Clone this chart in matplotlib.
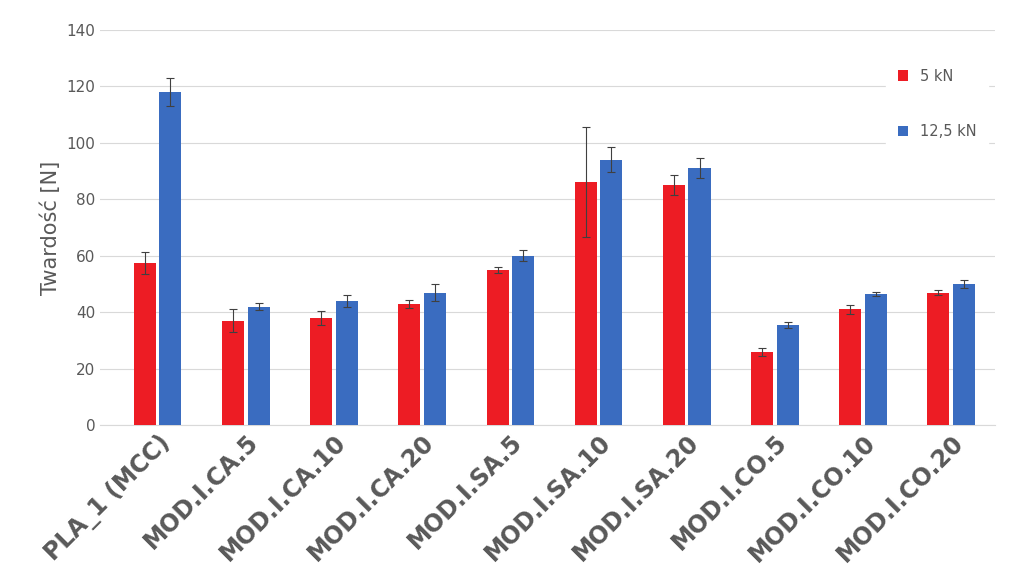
import matplotlib
matplotlib.use("Agg")
import matplotlib.pyplot as plt
import numpy as np

categories = ["PLA_1 (MCC)", "MOD.I.CA.5", "MOD.I.CA.10", "MOD.I.CA.20", "MOD.I.SA.5",
              "MOD.I.SA.10", "MOD.I.SA.20", "MOD.I.CO.5", "MOD.I.CO.10", "MOD.I.CO.20"]
red_vals = [57.5, 37, 38, 43, 55, 86, 85, 26, 41, 47]
red_err = [4, 4, 2.5, 1.5, 1, 19.5, 3.5, 1.5, 1.5, 1]
blue_vals = [118, 42, 44, 47, 60, 94, 91, 35.5, 46.5, 50]
blue_err = [5, 1.2, 2, 3, 2, 4.5, 3.5, 1, 0.8, 1.5]

fig = plt.figure(figsize=(10.24, 5.85), dpi=100)
ax = fig.add_axes([0.098, 0.273, 0.874, 0.676])
x = np.arange(len(categories))
w = 0.25
ek = dict(ecolor="#404040", elinewidth=0.8, capsize=3, capthick=0.8)
ax.bar(x - 0.145, red_vals, w, yerr=red_err, color="#ED1C24", label="5 kN", error_kw=ek, zorder=3)
ax.bar(x + 0.145, blue_vals, w, yerr=blue_err, color="#3A6CC0", label="12,5 kN", error_kw=ek, zorder=3)

ax.set_ylim(0, 140)
ax.set_yticks(range(0, 141, 20))
ax.set_xlim(-0.65, len(categories) - 0.5)
ax.grid(axis="y", color="#d9d9d9", linewidth=0.8, zorder=0)
for s in ["top", "right", "left"]:
    ax.spines[s].set_visible(False)
ax.spines["bottom"].set_color("#d9d9d9")
ax.tick_params(axis="both", length=0, colors="#595959", labelsize=11)
ax.set_xticks(x)
ax.set_xticklabels(categories, rotation=45, ha="right", rotation_mode="anchor",
                   fontsize=17, fontweight="bold", color="#595959")
ax.set_ylabel("Twardość [N]", fontsize=15, color="#595959")
leg = ax.legend(loc="upper right", bbox_to_anchor=(1.0, 0.95), frameon=True, framealpha=1,
                edgecolor="white", fontsize=10.5, labelspacing=2.8, handlelength=0.7,
                handleheight=0.7, borderpad=0.8)
for t in leg.get_texts():
    t.set_color("#595959")
fig.savefig("out.png", dpi=100)
